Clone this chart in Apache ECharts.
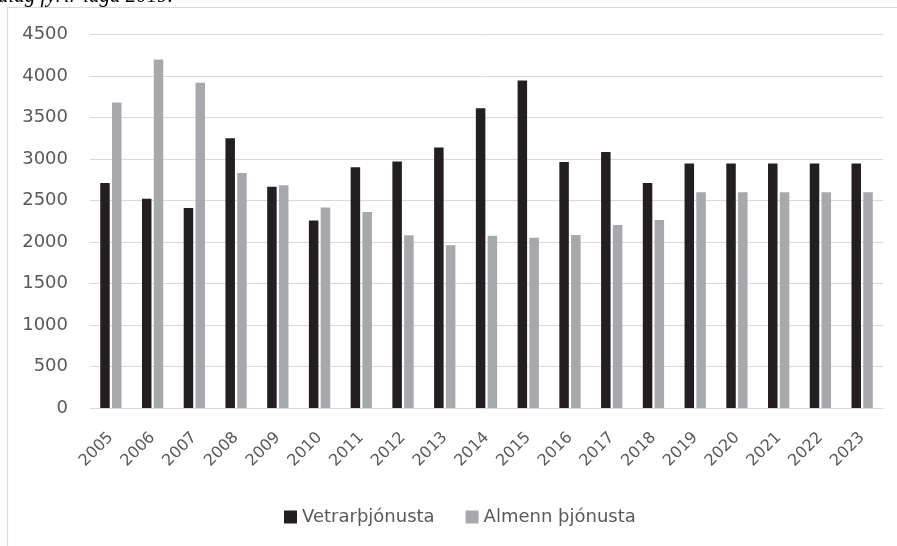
<!DOCTYPE html>
<html>
<head>
<meta charset="utf-8">
<script src="https://cdn.jsdelivr.net/npm/echarts@6/dist/echarts.min.js"></script>
<style>
  html, body { margin: 0; padding: 0; background: #fff; }
  #chart { width: 897px; height: 546px; }
</style>
</head>
<body>
<div id="chart"></div>
<script>
const years = ['2005', '2006', '2007', '2008', '2009', '2010', '2011', '2012', '2013', '2014',
               '2015', '2016', '2017', '2018', '2019', '2020', '2021', '2022', '2023'];
const vetrar = [2710, 2520, 2410, 3250, 2665, 2260, 2900, 2970, 3140, 3610,
                3945, 2965, 3085, 2710, 2945, 2945, 2945, 2945, 2945];
const almenn = [3680, 4200, 3920, 2830, 2685, 2415, 2360, 2080, 1960, 2075,
                2050, 2085, 2205, 2265, 2600, 2600, 2600, 2600, 2600];
const seriesNames = ['Vetrarþjónusta', 'Almenn þjónusta'];
const caption = 'álag fyrir laga 2019.';

const chart = echarts.init(document.getElementById('chart'));

const option = {
    backgroundColor: '#ffffff',
    animation: false,
    textStyle: { fontFamily: 'DejaVu Sans' },
    graphic: [
        // ramminn utan um myndina (aðeins efri og vinstri hlið sjást)
        { type: 'line', shape: { x1: 7.5, y1: 7.5, x2: 897, y2: 7.5 }, style: { stroke: '#d9d9d9', lineWidth: 1.2 } },
        { type: 'line', shape: { x1: 7.5, y1: 7.5, x2: 7.5, y2: 546 }, style: { stroke: '#d9d9d9', lineWidth: 1.2 } },
        {
            type: 'text', left: -2, top: -14,
            style: {
                text: caption,
                font: 'italic 21px "Liberation Serif"',
                fill: '#000'
            }
        }
    ],
    legend: {
        data: seriesNames,
        left: 279,
        top: 503,
        itemWidth: 13,
        itemHeight: 13,
        itemGap: 31,
        icon: 'rect',
        textStyle: { color: '#595959', fontSize: 18, fontFamily: 'DejaVu Sans' }
    },
    grid: {
        left: 90,
        right: 14,
        top: 34.5,
        bottom: 138
    },
    xAxis: {
        type: 'category',
        data: years,
        axisLine: { show: true, lineStyle: { color: '#d9d9d9', width: 1 } },
        axisTick: { show: false },
        axisLabel: {
            rotate: 45,
            margin: 27,
            color: '#595959',
            fontSize: 16,
            fontFamily: 'DejaVu Sans'
        }
    },
    yAxis: {
        type: 'value',
        min: 0,
        max: 4500,
        interval: 500,
        axisLine: { show: false },
        axisTick: { show: false },
        splitLine: { lineStyle: { color: '#d9d9d9', width: 1 } },
        axisLabel: {
            margin: 22,
            color: '#595959',
            fontSize: 18,
            fontFamily: 'DejaVu Sans',
            formatter: v => String(v)
        }
    },
    series: [
        {
            name: seriesNames[0],
            type: 'bar',
            data: vetrar,
            barWidth: 9.5,
            barGap: '24%',
            itemStyle: { color: '#231f20' }
        },
        {
            name: seriesNames[1],
            type: 'bar',
            data: almenn,
            barWidth: 9.5,
            itemStyle: { color: '#a7a8ac' }
        }
    ]
};

chart.setOption(option);
</script>
</body>
</html>
